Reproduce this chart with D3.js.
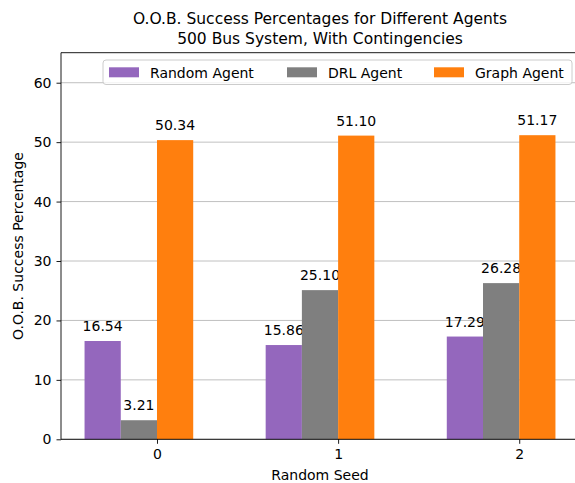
<!DOCTYPE html>
<html>
<head>
<meta charset="utf-8">
<script src="https://cdnjs.cloudflare.com/ajax/libs/d3/7.8.5/d3.min.js"></script>
<style>
  body { margin: 0; background: #fff; }
  text { font-family: "DejaVu Sans", sans-serif; }
</style>
</head>
<body>
<svg width="575" height="483"></svg>
<script>
// data
var seeds = ["0", "1", "2"];
var agents = ["Random Agent", "DRL Agent", "Graph Agent"];
var colors = ["#9467bd", "#7f7f7f", "#ff7f0e"];
var randomVals = [16.54, 15.86, 17.29];
var drlVals = [3.21, 25.10, 26.28];
var graphVals = [50.34, 51.10, 51.17];
var yTicks = [0, 10, 20, 30, 40, 50, 60];

var series = [randomVals, drlVals, graphVals];

var svg = d3.select("svg");
var fs = 14;

// axes box (right edge falls outside the window like in the original)
var axLeft = 61, axRight = 579, axTop = 52.7, axBottom = 439.3;

var xScale = d3.scaleLinear()
    .domain([-0.53, 2.33])
    .range([axLeft, axRight]);

var yScale = d3.scaleLinear()
    .domain([0, 65.05])
    .range([axBottom, axTop]);

var barW = 0.2;

// grid lines
svg.append("g")
    .selectAll("line")
    .data(yTicks)
    .enter().append("line")
    .attr("x1", axLeft).attr("x2", axRight)
    .attr("y1", function(d) { return yScale(d); })
    .attr("y2", function(d) { return yScale(d); })
    .attr("stroke", "#b0b0b0")
    .attr("stroke-width", 0.8);

// bars
series.forEach(function(vals, si) {
    svg.append("g")
        .selectAll("rect")
        .data(vals)
        .enter().append("rect")
        .attr("x", function(d, i) { return xScale(i + (si - 2) * barW); })
        .attr("width", xScale(barW) - xScale(0))
        .attr("y", function(d) { return yScale(d); })
        .attr("height", function(d) { return yScale(0) - yScale(d); })
        .attr("fill", colors[si]);

    svg.append("g")
        .selectAll("text")
        .data(vals)
        .enter().append("text")
        .attr("x", function(d, i) { return xScale(i + (si - 1.5) * barW); })
        .attr("y", function(d) { return yScale(d) - 10; })
        .attr("text-anchor", "middle")
        .attr("font-size", fs)
        .text(function(d) { return d.toFixed(2); });
});

// axes
var xAxis = d3.axisBottom(xScale)
    .tickValues([0, 1, 2])
    .tickFormat(function(d) { return seeds[d]; })
    .tickSize(4.5).tickPadding(5);

var yAxis = d3.axisLeft(yScale)
    .tickValues(yTicks)
    .tickSize(4.5).tickPadding(5);

var gx = svg.append("g")
    .attr("transform", "translate(0," + axBottom + ")")
    .call(xAxis);
var gy = svg.append("g")
    .attr("transform", "translate(" + axLeft + ",0)")
    .call(yAxis);

[gx, gy].forEach(function(g) {
    g.select(".domain").remove();
    g.selectAll("text").attr("font-size", fs).attr("fill", "#000")
        .style("font-family", "DejaVu Sans");
    g.selectAll("line").attr("stroke", "#000").attr("stroke-width", 0.9);
});

// spines
svg.append("line").attr("x1", axLeft).attr("x2", axLeft).attr("y1", axTop).attr("y2", axBottom)
    .attr("stroke", "#000").attr("stroke-width", 0.9);
svg.append("line").attr("x1", axLeft).attr("x2", axRight).attr("y1", axBottom).attr("y2", axBottom)
    .attr("stroke", "#000").attr("stroke-width", 0.9);
svg.append("line").attr("x1", axLeft).attr("x2", axRight).attr("y1", axTop).attr("y2", axTop)
    .attr("stroke", "#000").attr("stroke-width", 0.9);

// title
var cx = (axLeft + axRight) / 2;
svg.append("text")
    .attr("x", cx).attr("y", 24)
    .attr("text-anchor", "middle")
    .attr("font-size", 15.5)
    .text("O.O.B. Success Percentages for Different Agents");
svg.append("text")
    .attr("x", cx).attr("y", 44)
    .attr("text-anchor", "middle")
    .attr("font-size", 15.5)
    .text("500 Bus System, With Contingencies");

// axis labels
svg.append("text")
    .attr("x", cx).attr("y", 480)
    .attr("text-anchor", "middle")
    .attr("font-size", fs)
    .text("Random Seed");
svg.append("text")
    .attr("transform", "translate(23," + ((axTop + axBottom) / 2) + ") rotate(-90)")
    .attr("text-anchor", "middle")
    .attr("font-size", fs)
    .text("O.O.B. Success Percentage");

// legend
var legend = svg.append("g");
legend.append("rect")
    .attr("x", 103).attr("y", 60)
    .attr("width", 469).attr("height", 24.5)
    .attr("rx", 3)
    .attr("fill", "#fff").attr("fill-opacity", 0.8)
    .attr("stroke", "#cccccc").attr("stroke-width", 1);

var legendX = [109, 287, 434];
agents.forEach(function(name, i) {
    legend.append("rect")
        .attr("x", legendX[i]).attr("y", 67.3)
        .attr("width", 30).attr("height", 10)
        .attr("fill", colors[i]);
    legend.append("text")
        .attr("x", legendX[i] + 41).attr("y", 77.5)
        .attr("font-size", fs)
        .text(name);
});
</script>
</body>
</html>
